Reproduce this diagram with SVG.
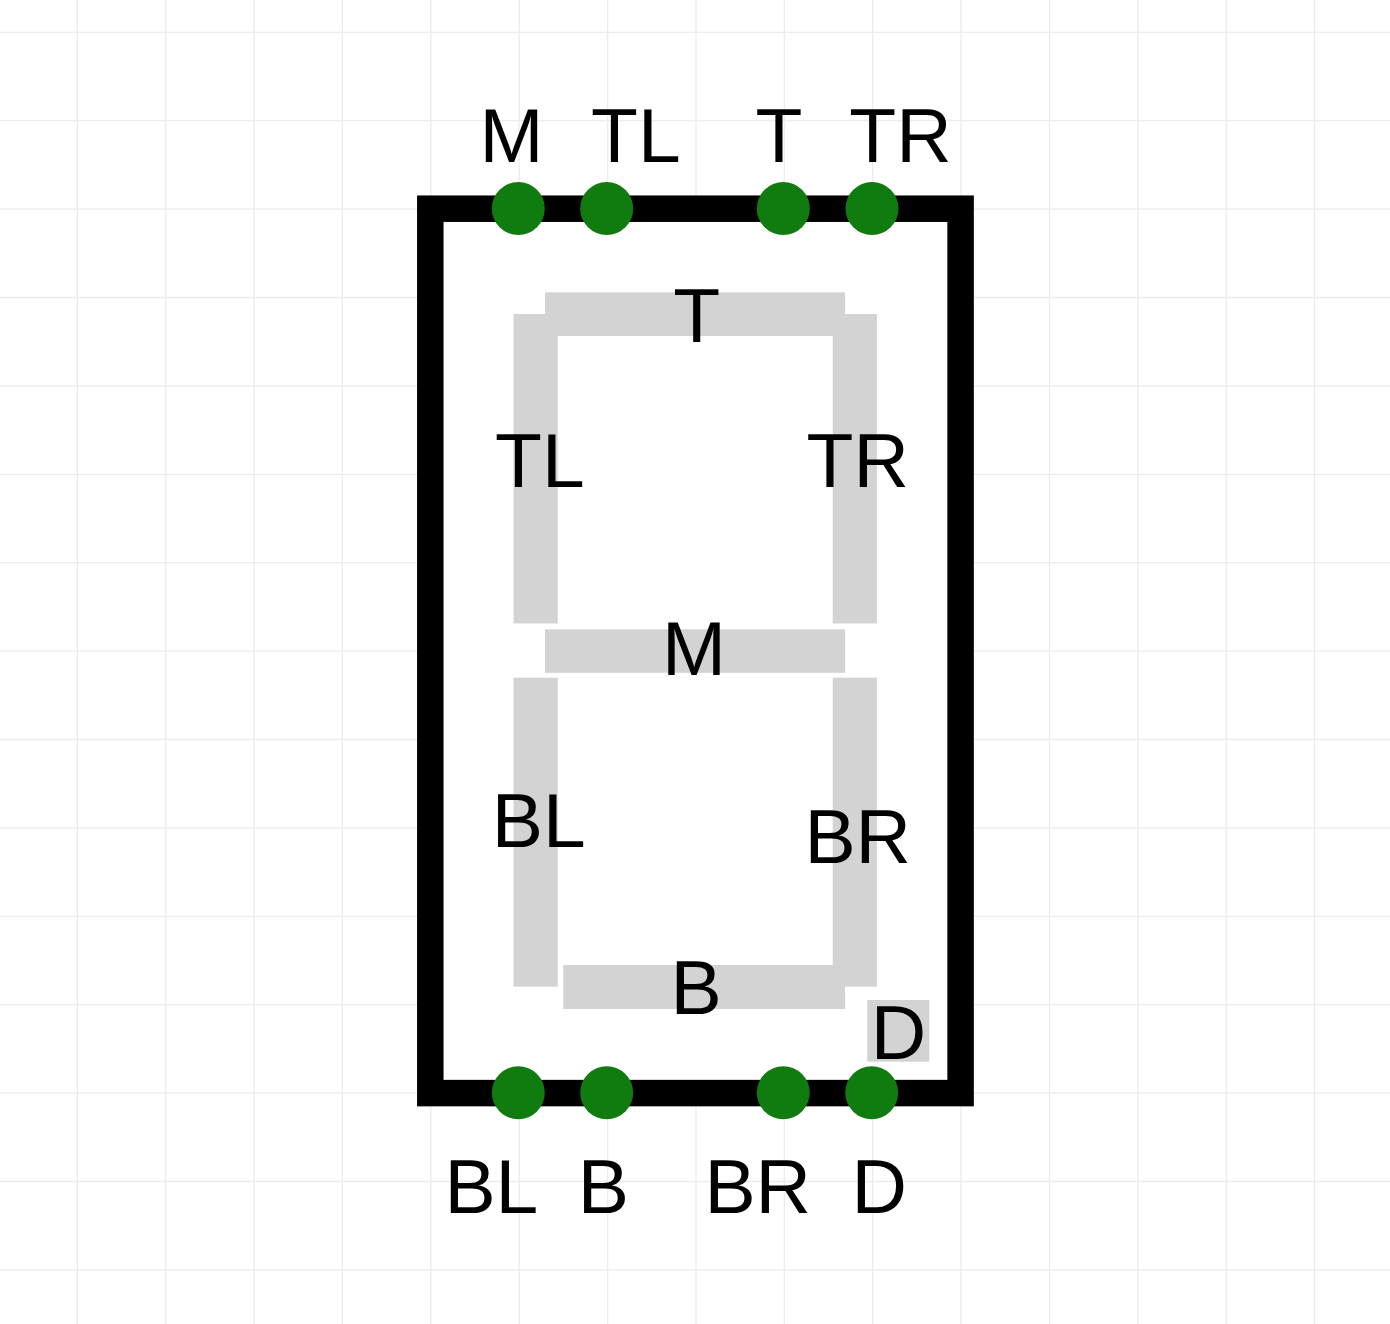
<svg xmlns="http://www.w3.org/2000/svg" width="1390" height="1324" viewBox="0 0 1390 1324">
<style>
.grid{stroke:#ececec;stroke-width:1.3;fill:none}
.frame{fill:#ffffff;stroke:#000000;stroke-width:26.5}
.seg{fill:#d3d3d3}
.pin{fill:#107c10}
text{font-family:"Liberation Sans",Arial,Helvetica,sans-serif;font-size:76.8px;fill:#000000}
</style>
<rect x="0" y="0" width="1390" height="1324" fill="#ffffff"/>
<g id="grid">
<path class="grid" d="M77.3 0V1324M165.7 0V1324M254.1 0V1324M342.4 0V1324M430.8 0V1324M519.2 0V1324M607.6 0V1324M696 0V1324M784.4 0V1324M872.7 0V1324M961.1 0V1324M1049.5 0V1324M1137.9 0V1324M1226.3 0V1324M1314.6 0V1324"/>
<path class="grid" d="M0 32.3H1390M0 120.7H1390M0 209.1H1390M0 297.5H1390M0 385.9H1390M0 474.3H1390M0 562.7H1390M0 651.1H1390M0 739.5H1390M0 827.9H1390M0 916.3H1390M0 1004.7H1390M0 1093.1H1390M0 1181.5H1390M0 1269.9H1390"/>
</g>
<g id="frame">
<rect class="frame" x="430.3" y="208.7" width="530.3" height="884.4"/>
</g>
<g id="seg-T"><rect class="seg" x="545" y="292.3" width="300" height="43.7"/><text x="673.3" y="342.3">T</text></g>
<g id="seg-TL"><rect class="seg" x="513.5" y="314" width="44.2" height="309.5"/><text x="495" y="487.3">TL</text></g>
<g id="seg-TR"><rect class="seg" x="832.7" y="314" width="44.2" height="309.5"/><text x="806.6" y="487.3">TR</text></g>
<g id="seg-M"><rect class="seg" x="545" y="629.3" width="300" height="43.5"/><text x="662" y="675">M</text></g>
<g id="seg-BL"><rect class="seg" x="513.5" y="677.7" width="44.2" height="309"/><text x="491.7" y="846.7">BL</text></g>
<g id="seg-BR"><rect class="seg" x="832.7" y="677.7" width="44.2" height="309"/><text x="804.4" y="862.7">BR</text></g>
<g id="seg-B"><rect class="seg" x="563.3" y="965" width="281.7" height="44"/><text x="670.4" y="1014">B</text></g>
<g id="seg-D"><rect class="seg" x="867.3" y="1000" width="62" height="61.7"/><text x="870.8" y="1059.3">D</text></g>
<g id="pins-top">
<g id="pin-M"><circle class="pin" cx="518.3" cy="208.5" r="26.5"/><text x="479.4" y="161.7">M</text></g>
<g id="pin-TL"><circle class="pin" cx="606.7" cy="208.5" r="26.5"/><text x="591" y="161.7">TL</text></g>
<g id="pin-T"><circle class="pin" cx="783.3" cy="208.5" r="26.5"/><text x="755.6" y="161.7">T</text></g>
<g id="pin-TR"><circle class="pin" cx="872" cy="208.5" r="26.5"/><text x="849.3" y="161.7">TR</text></g>
</g>
<g id="pins-bottom">
<g id="pin-BL"><circle class="pin" cx="518.3" cy="1092.7" r="26.5"/><text x="444.4" y="1213.3">BL</text></g>
<g id="pin-B"><circle class="pin" cx="606.7" cy="1092.7" r="26.5"/><text x="577.7" y="1213.3">B</text></g>
<g id="pin-BR"><circle class="pin" cx="783.3" cy="1092.7" r="26.5"/><text x="704.4" y="1213.3">BR</text></g>
<g id="pin-D"><circle class="pin" cx="871.7" cy="1092.7" r="26.5"/><text x="851.4" y="1213.3">D</text></g>
</g>
<g id="connectors"></g>
</svg>
